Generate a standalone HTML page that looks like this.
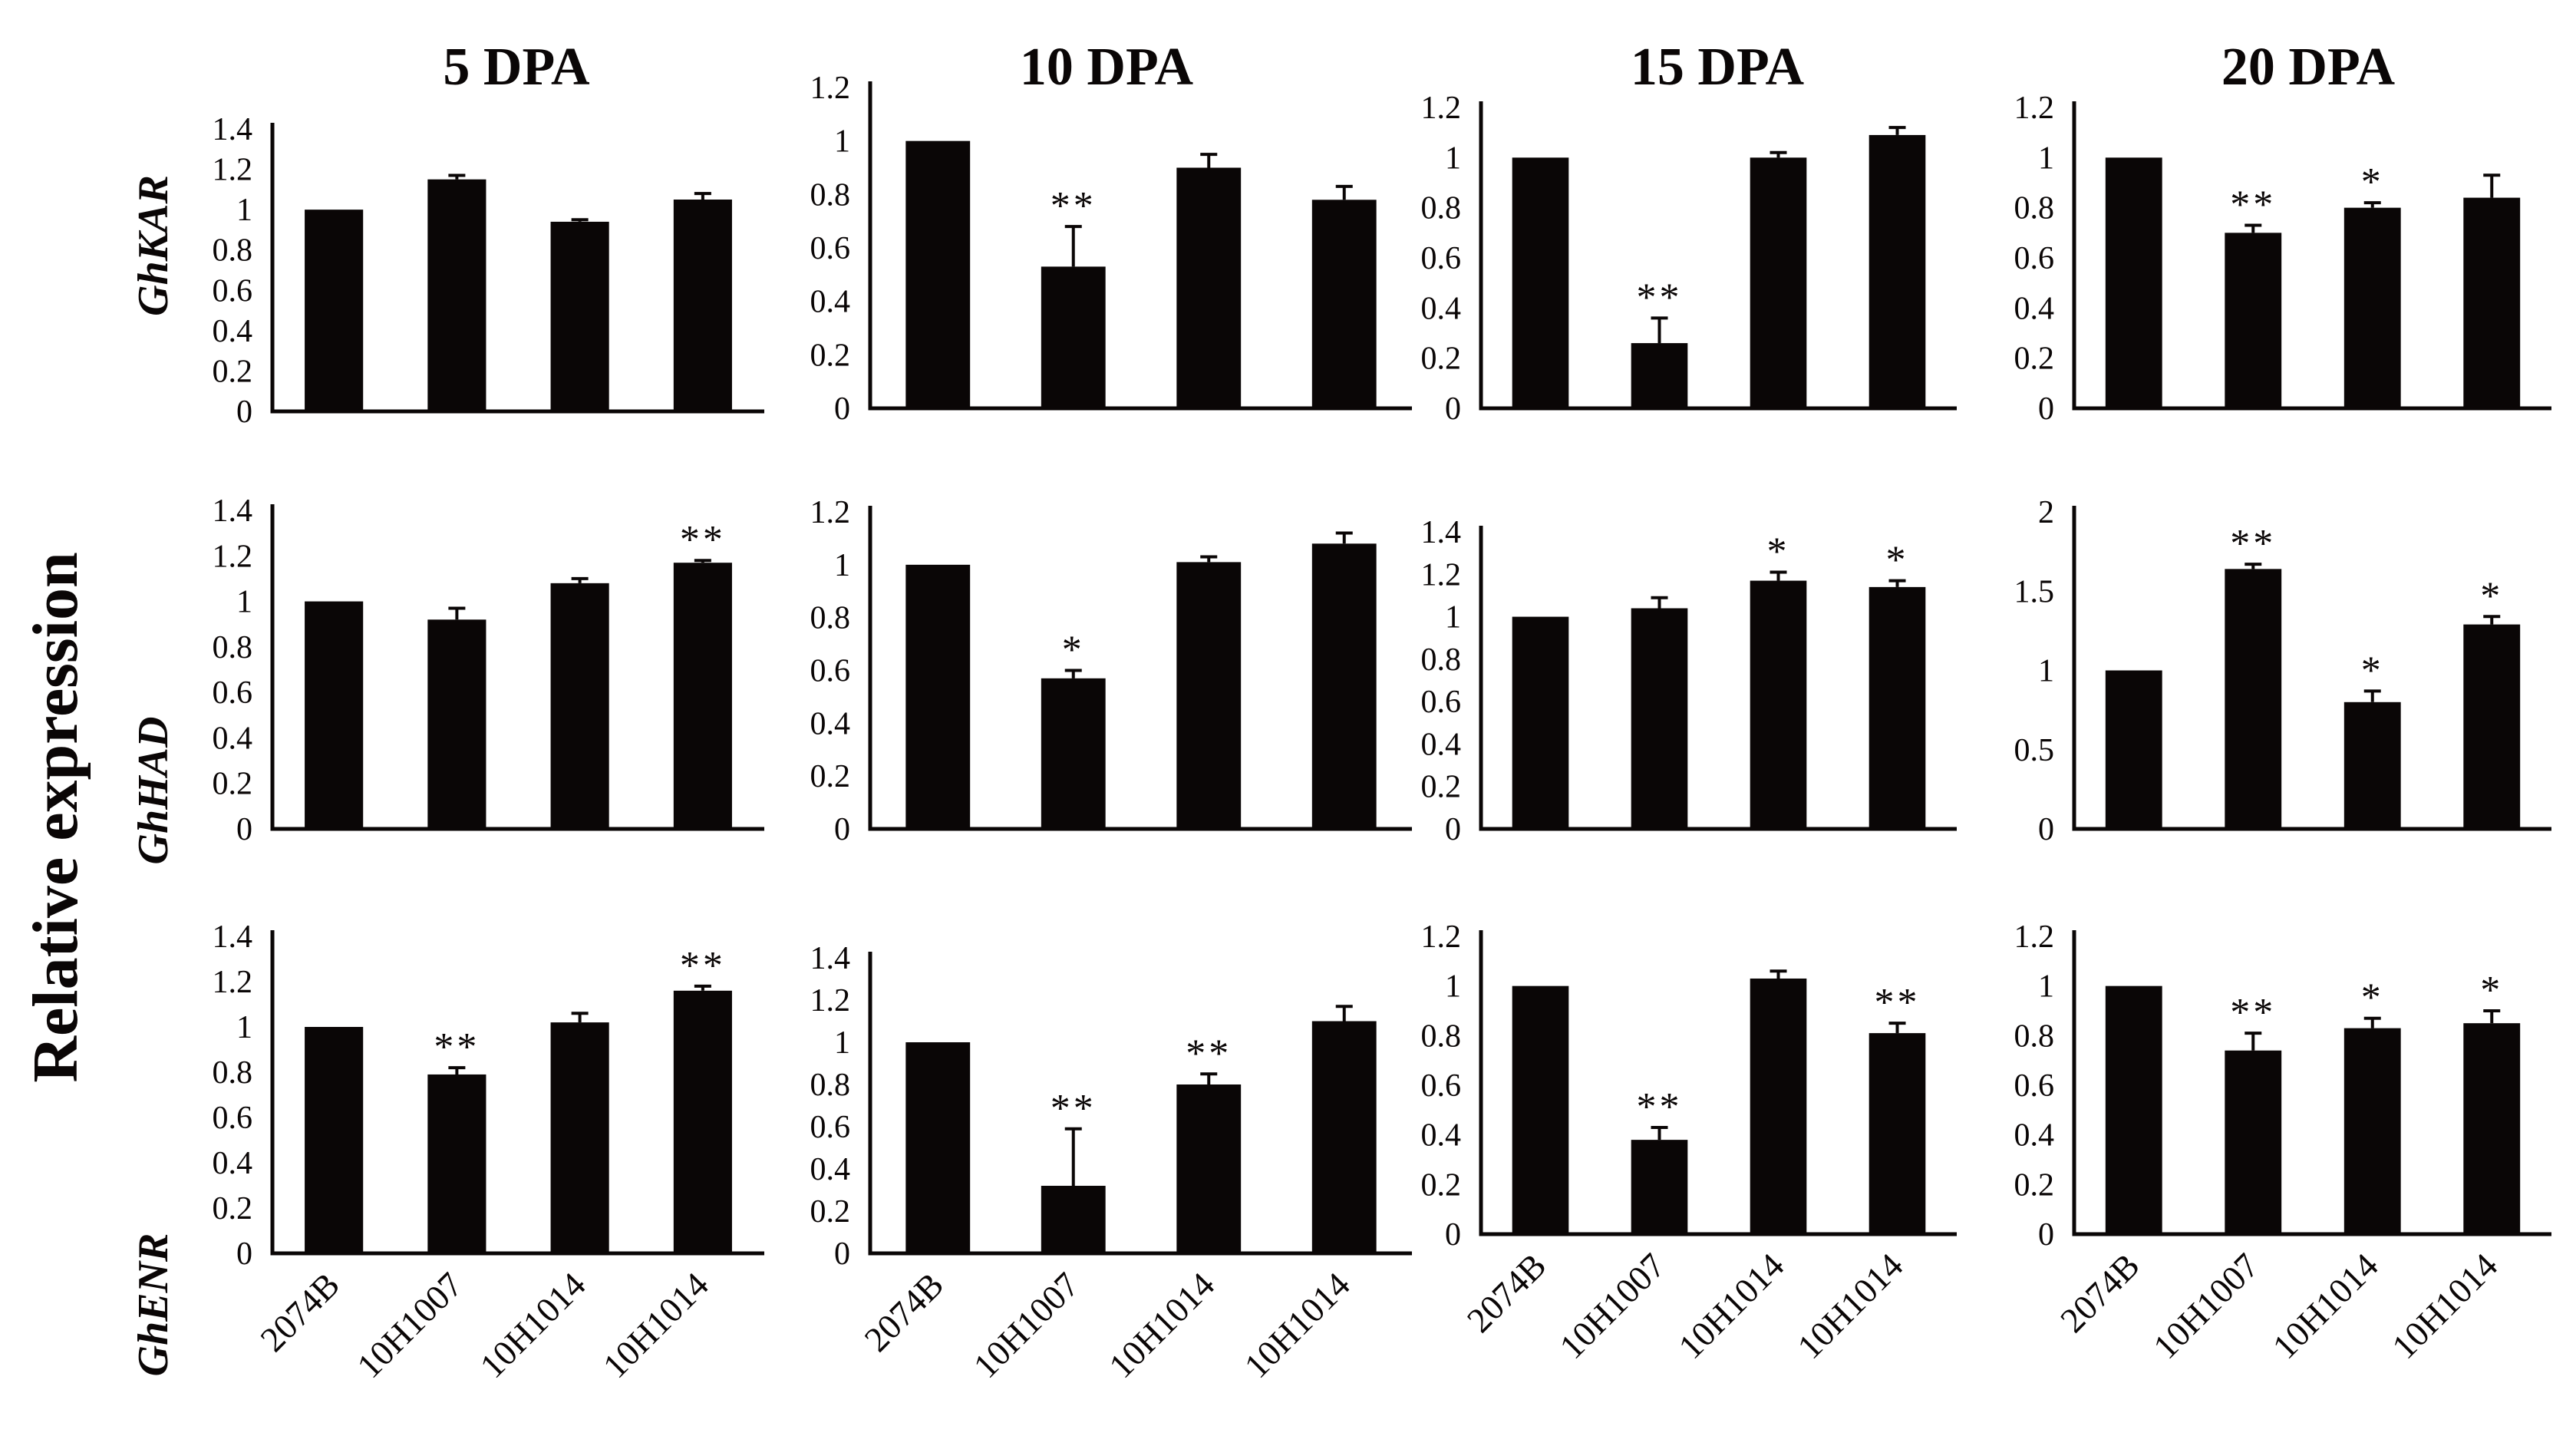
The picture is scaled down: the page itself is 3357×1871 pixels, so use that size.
<!DOCTYPE html>
<html><head><meta charset="utf-8"><style>
html,body{margin:0;padding:0;background:#fff;}
svg{display:block;}
text{font-family:"Liberation Serif",serif;fill:#0a0606;}
</style></head><body>
<svg id="fig" width="3357" height="1871" viewBox="0 0 3357 1871" xmlns="http://www.w3.org/2000/svg">
<text x="0" y="0" transform="translate(100,1065) rotate(-90)" text-anchor="middle" font-size="84" font-weight="bold">Relative  expression</text>
<text transform="translate(218,320) rotate(-90)" text-anchor="middle" font-size="56" font-weight="bold" font-style="italic">GhKAR</text>
<text transform="translate(218,1030) rotate(-90)" text-anchor="middle" font-size="56" font-weight="bold" font-style="italic">GhHAD</text>
<text transform="translate(218,1700) rotate(-90)" text-anchor="middle" font-size="56" font-weight="bold" font-style="italic">GhENR</text>
</svg>
<script>
const categories = ["2074B","10H1007","10H1014","10H1014"];
const columnTitles = ["5 DPA","10 DPA","15 DPA","20 DPA"];
const rowGenes = ["GhKAR","GhHAD","GhENR"];
const values = [
 [[1,1.15,0.94,1.05],[1,0.53,0.9,0.78],[1,0.26,1.0,1.09],[1,0.70,0.80,0.84]],
 [[1,0.92,1.08,1.17],[1,0.57,1.01,1.08],[1,1.04,1.17,1.14],[1,1.64,0.80,1.29]],
 [[1,0.79,1.02,1.16],[1,0.32,0.80,1.10],[1,0.38,1.03,0.81],[1,0.74,0.83,0.85]]
];
const errors = [
 [[0,0.02,0.01,0.03],[0,0.15,0.05,0.05],[0,0.10,0.02,0.03],[0,0.03,0.02,0.09]],
 [[0,0.05,0.02,0.01],[0,0.03,0.02,0.04],[0,0.05,0.04,0.03],[0,0.03,0.07,0.05]],
 [[0,0.03,0.04,0.02],[0,0.27,0.05,0.07],[0,0.05,0.03,0.04],[0,0.07,0.04,0.05]]
];
const marks = [
 [["","","",""],["","**","",""],["","**","",""],["","**","*",""]],
 [["","","","**"],["","*","",""],["","","*","*"],["","**","*","*"]],
 [["","**","","**"],["","**","**",""],["","**","","**"],["","**","*","*"]]
];
const axisMax = [[1.4,1.2,1.2,1.2],[1.4,1.2,1.4,2],[1.4,1.4,1.2,1.2]];
const axisStep = [[0.2,0.2,0.2,0.2],[0.2,0.2,0.2,0.5],[0.2,0.2,0.2,0.2]];

const colX0=[355,1134,1930,2703], colX1=[996,1840,2550,3325];
const rowTop=[[168,114,140,140],[665,667,693,667],[1220,1248,1220,1220]];
const rowBase=[[536,532,532,532],[1080,1080,1080,1080],[1633,1633,1608,1608]];
const titleX=[673,1442,2238,3008];

const svg=document.getElementById('fig');
const NS='http://www.w3.org/2000/svg';
function el(tag,attrs,parent){const e=document.createElementNS(NS,tag);for(const k in attrs)e.setAttribute(k,attrs[k]);(parent||svg).appendChild(e);return e;}

columnTitles.forEach((t,c)=>{
  const e=el('text',{x:titleX[c],y:110,'text-anchor':'middle','font-size':70,'font-weight':'bold'});
  
  
  e.textContent=t;
});

for(let r=0;r<3;r++){for(let c=0;c<4;c++){
  const g=el('g',{});
  
  
  const x0=colX0[c],x1=colX1[c],top=rowTop[r][c],base=rowBase[r][c],mx=axisMax[r][c],st=axisStep[r][c];
  const y=v=>base-(v/mx)*(base-top);
  const slot=(x1-x0)/4;
  const xc=i=>x0+slot*(i+0.5);
  const n=Math.round(mx/st);
  for(let k=0;k<=n;k++){
    const v=k*st;
    const t=el('text',{x:x0-26,y:y(v)+14,'text-anchor':'end','font-size':42},g);
    
    
    t.textContent=(Math.round(v*10)/10).toString();
  }
  values[r][c].forEach((v,i)=>{
    const bw=slot*0.475;
    const b=el('rect',{x:xc(i)-bw/2,y:y(v),width:bw,height:base-y(v),fill:'#0a0606'},g);
    
    
    const e=errors[r][c][i];
    if(e>0){
      const ln=el('path',{d:`M${xc(i)} ${y(v)} V${y(v+e)} M${xc(i)-11} ${y(v+e)} H${xc(i)+11}`,stroke:'#0a0606','stroke-width':4,fill:'none'},g);
      
      
    }
    const m=marks[r][c][i];
    if(m){
      const s=el('text',{x:xc(i),y:y(v+e)-10,'text-anchor':'middle','font-size':52,'letter-spacing':4},g);
      
      
      s.textContent=m;
    }
    if(r===2){
      const lx=xc(i)+10, ly=base+44;
      const t=el('text',{x:0,y:0,'text-anchor':'end','font-size':46,transform:`translate(${lx},${ly}) rotate(-45)`},g);
      
      
      t.textContent=categories[i];
    }
  });
  const ax=el('path',{d:`M${x0} ${top-8} V${base} H${x1}`,stroke:'#0a0606','stroke-width':5,fill:'none'},g);
  
  
}}
</script>
</body></html>
